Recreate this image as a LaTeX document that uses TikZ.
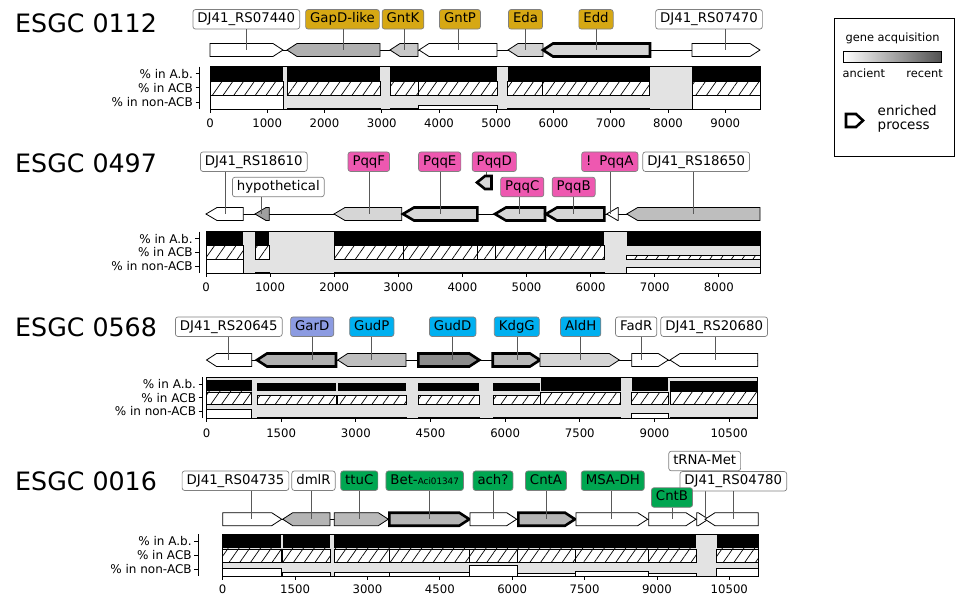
\documentclass[tikz,border=0pt]{standalone}
\usepackage{fontspec}
\setmainfont{DejaVu Sans}
\usetikzlibrary{patterns.meta}
\definecolor{gold}{RGB}{214,168,20}
\definecolor{pink}{RGB}{238,88,176}
\definecolor{cyanl}{RGB}{0,176,240}
\definecolor{lav}{RGB}{140,155,225}
\definecolor{grn}{RGB}{0,166,81}
\definecolor{bgg}{RGB}{227,227,227}
\definecolor{c140}{RGB}{140,140,140}
\definecolor{c160}{RGB}{160,160,160}
\definecolor{c176}{RGB}{176,176,176}
\definecolor{c180}{RGB}{180,180,180}
\definecolor{c185}{RGB}{185,185,185}
\definecolor{c190}{RGB}{190,190,190}
\definecolor{c200}{RGB}{200,200,200}
\definecolor{c210}{RGB}{210,210,210}
\definecolor{c214}{RGB}{214,214,214}
\tikzset{
 genebox/.style={draw=black,line width=0.8pt,line join=miter},
 thick3/.style={line width=2.6pt},
 backbone/.style={draw=black,line width=0.9pt},
 lab/.style={draw=black!50,line width=0.7pt,rounded corners=2.5pt,inner xsep=4.5pt,inner ysep=0pt,minimum height=19.5pt,text height=9.6pt,text depth=2.8pt,font=\fontsize{13.3}{15}\selectfont},
 pinline/.style={draw=black!65,line width=0.7pt},
 hatchbar/.style={draw=black,line width=0.6pt,fill=white,postaction={pattern={Lines[angle=55,distance=8.8pt,line width=0.7pt]}}},
 nonbar/.style={draw=black,line width=0.6pt,fill=white},
 frameline/.style={draw=black,line width=0.8pt},
 axisline/.style={draw=black,line width=0.8pt},
 rowlab/.style={anchor=east,inner sep=0pt,font=\fontsize{12}{14}\selectfont},
 ticklab/.style={inner sep=0pt,font=\fontsize{11.7}{13}\selectfont},
 ttl/.style={anchor=west,inner sep=0pt,font=\fontsize{25.3}{29}\selectfont},
 legtxt/.style={inner sep=0pt,font=\fontsize{11.4}{13}\selectfont},
 legbig/.style={inner sep=0pt,anchor=west,font=\fontsize{13.5}{15}\selectfont},
}
\def\tipl{10}
% right-pointing gene
\newcommand\gR[5]{%
  \pgfmathsetmacro\gtip{min(\tipl,#2-#1)}%
  \pgfmathsetmacro\gxb{#2-\gtip}%
  \draw[genebox,fill=#4,#5] (#1,#3-6.5) -- (\gxb,#3-6.5) -- (#2,#3) -- (\gxb,#3+6.5) -- (#1,#3+6.5) -- cycle;}
% left-pointing gene
\newcommand\gL[5]{%
  \pgfmathsetmacro\gtip{min(\tipl,#2-#1)}%
  \pgfmathsetmacro\gxa{#1+\gtip}%
  \draw[genebox,fill=#4,#5] (#1,#3) -- (\gxa,#3-6.5) -- (#2,#3-6.5) -- (#2,#3+6.5) -- (\gxa,#3+6.5) -- cycle;}
% label with pin
\newcommand\lab[7]{%
  \coordinate (#1p) at (#6,#7);
  \node[lab,fill=#4] (#1) at (#2,#3) {#5};
  \draw[pinline] (#1p |- #1.south) -- (#1p);}
% bar segment: x1 x2 top rh ab acb non
\newcommand\seg[7]{%
  \pgfmathsetmacro\sgA{#3+#4}%
  \pgfmathsetmacro\sgB{#3+2*#4}%
  \pgfmathsetmacro\sgC{#3+3*#4}%
  \fill[black] (#1,\sgA) rectangle (#2,\sgA-#5*#4);
  \draw[hatchbar] (#1,\sgB) rectangle (#2,\sgB-#6*#4);
  \draw[nonbar] (#1,\sgC) rectangle (#2,\sgC-#7*#4);}
\newcommand\plotbg[4]{\fill[bgg] (#1,#3) rectangle (#2,#3+3*#4);}
% id x0 xend top rh spinex scale ticks labely
\newcommand\plotfg[9]{%
  \draw[frameline] (#2,#4) rectangle (#3,#4+3*#5);
  \draw[axisline] (#6,#4) -- (#6,#4+3*#5);
  \foreach \k/\t in {1/\% in A.b.,2/\% in ACB,3/\% in non-ACB}{
    \draw[axisline] (#6-4,#4+\k*#5-0.5*#5) -- (#6,#4+\k*#5-0.5*#5);
    \node[rowlab] (#1r\k) at (#6-6.5,#4+\k*#5-0.5*#5) {\t};}
  \foreach \v in {#8}{
    \draw[axisline] (#2+\v*#7,#4+3*#5) -- (#2+\v*#7,#4+3*#5+4);
    \node[ticklab] (#1t\v) at (#2+\v*#7,#9) {\v};}}
\begin{document}
\begin{tikzpicture}[x=1pt,y=-1pt]
\useasboundingbox (0,0) rectangle (956,598);
\fill[white] (0,0) rectangle (956,598);

% ---------------- titles
\node[ttl] (T1) at (15,23.3) {ESGC 0112};
\node[ttl] (T2) at (15,163.3) {ESGC 0497};
\node[ttl] (T3) at (15,327.3) {ESGC 0568};
\node[ttl] (T4) at (15,481.7) {ESGC 0016};

% ================= Panel 1
\draw[backbone] (210,50) -- (760,50);
\gR{210}{283}{50}{white}{}
\gL{287}{380}{50}{c176}{}
\gL{390}{418}{50}{c200}{}
\gL{419}{497}{50}{white}{}
\gL{508}{543}{50}{c210}{}
\gL{543}{650}{50}{c214}{thick3}
\gR{692}{760}{50}{white}{}
\lab{a1}{246.3}{19.3}{white}{DJ41\_RS07440}{246.7}{50}
\lab{a2}{342.5}{19.3}{gold}{GapD-like}{343}{50}
\lab{a3}{403}{19.3}{gold}{GntK}{404}{50}
\lab{a4}{460}{19.3}{gold}{GntP}{458}{50}
\lab{a5}{525.5}{19.3}{gold}{Eda}{525.7}{50}
\lab{a6}{596}{19.3}{gold}{Edd}{596.7}{50}
\lab{a7}{709}{19.3}{white}{DJ41\_RS07470}{725.7}{50}
\plotbg{210}{760}{66.7}{14.1}
\seg{210}{283}{66.7}{14.1}{1}{1}{1}
\seg{287.3}{380}{66.7}{14.1}{1}{1}{0.06}
\seg{390}{418.5}{66.7}{14.1}{1}{1}{0.06}
\seg{418.5}{497}{66.7}{14.1}{1}{1}{0.28}
\seg{507.7}{542.7}{66.7}{14.1}{1}{1}{0.06}
\seg{542.7}{649.5}{66.7}{14.1}{1}{1}{0.06}
\seg{692}{760}{66.7}{14.1}{1}{1}{1}
\plotfg{p1}{210}{760}{66.7}{14.1}{199.5}{0.05725}{0,1000,...,9000}{123}

% ================= Panel 2
\def\tipl{11}
\draw[backbone] (206,214) -- (760,214);
\gL{206}{243.3}{214}{white}{}
\gL{255}{269.3}{214}{c160}{}
\gL{334}{401.7}{214}{c214}{}
\gL{403}{477.3}{214}{c214}{thick3}
\gL{495}{545}{214}{c214}{thick3}
\gL{546}{604.3}{214}{c214}{thick3}
\gL{606.7}{618.3}{214}{white}{}
\gL{626.7}{760}{214}{c190}{}
\lab{b1}{253.8}{161.7}{white}{DJ41\_RS18610}{225}{214}
\lab{b2}{278.3}{187}{white}{hypothetical}{261.7}{214}
\lab{b3}{368.8}{161.7}{pink}{PqqF}{369}{214}
\lab{b4}{439.7}{161.7}{pink}{PqqE}{440}{214}
\lab{b5}{494.3}{161.7}{pink}{PqqD}{486.7}{182.5}
\lab{b6}{522.2}{187}{pink}{PqqC}{519.3}{214}
\lab{b7}{573.7}{187}{pink}{PqqB}{573.3}{214}
\lab{b8}{609.8}{161.7}{pink}{!\hspace{8pt}PqqA}{610}{214}
\lab{b9}{696.2}{161.7}{white}{DJ41\_RS18650}{693.3}{214}
\def\tipl{8}
\gL{477}{491.5}{182.5}{c214}{thick3}
\plotbg{206}{760}{231.7}{13.87}
\seg{206}{243.3}{231.7}{13.87}{1}{1}{1}
\seg{255}{269.3}{231.7}{13.87}{1}{1}{0.08}
\seg{334}{403}{231.7}{13.87}{1}{1}{0.06}
\seg{403}{477.3}{231.7}{13.87}{1}{1}{0.06}
\seg{477.3}{495}{231.7}{13.87}{1}{1}{0.06}
\seg{495}{545}{231.7}{13.87}{1}{1}{0.06}
\seg{545}{604.3}{231.7}{13.87}{1}{1}{0.06}
\seg{626.7}{760}{231.7}{13.87}{1}{0.3}{0.45}
\plotfg{p2}{206}{760}{231.7}{13.87}{199.3}{0.0641}{0,1000,...,8000}{287.5}

% ================= Panel 3
\def\tipl{10}
\draw[backbone] (206.5,360) -- (757.7,360);
\gL{206.5}{251.7}{360}{white}{}
\gL{257}{336}{360}{c176}{thick3}
\gL{337.7}{406}{360}{c190}{}
\gR{418.3}{479.3}{360}{c140}{thick3}
\gR{492.7}{540}{360}{c185}{thick3}
\gR{540}{619.3}{360}{c214}{}
\gR{631.7}{668.3}{360}{white}{}
\gL{670}{757.7}{360}{white}{}
\lab{c1}{228.8}{326.7}{white}{DJ41\_RS20645}{228.7}{360}
\lab{c2}{312.2}{326.7}{lav}{GarD}{312.3}{360}
\lab{c3}{371.8}{326.7}{cyanl}{GudP}{371.7}{360}
\lab{c4}{452.7}{326.7}{cyanl}{GudD}{452.3}{360}
\lab{c5}{516.8}{326.7}{cyanl}{KdgG}{517.3}{360}
\lab{c6}{580.7}{326.7}{cyanl}{AldH}{580.7}{360}
\lab{c7}{636.2}{326.7}{white}{FadR}{641.7}{360}
\lab{c8}{714.2}{326.7}{white}{DJ41\_RS20680}{715}{360}
\plotbg{206.5}{757.7}{377.3}{13.67}
\seg{206.5}{251.7}{377.3}{13.67}{0.78}{0.93}{0.66}
\seg{257}{336}{377.3}{13.67}{0.6}{0.66}{0.06}
\seg{337.7}{406}{377.3}{13.67}{0.6}{0.66}{0.06}
\seg{418.3}{479.3}{377.3}{13.67}{0.6}{0.66}{0.06}
\seg{493.3}{540}{377.3}{13.67}{0.6}{0.66}{0.06}
\seg{540.5}{620.5}{377.3}{13.67}{1}{0.88}{0.06}
\seg{631.7}{668}{377.3}{13.67}{1}{0.88}{0.38}
\seg{670}{757.7}{377.3}{13.67}{0.7}{0.95}{0.06}
\plotfg{p3}{206.5}{757.7}{377.3}{13.67}{202.7}{0.04977}{0,1500,...,10500}{433}

% ================= Panel 4
\draw[backbone] (222.7,519.2) -- (758.3,519.2);
\gR{222.7}{281.7}{519.2}{white}{}
\gL{282.7}{330}{519.2}{c180}{}
\gR{334.3}{388.3}{519.2}{c185}{}
\gR{389.3}{469.3}{519.2}{c180}{thick3}
\gR{470}{516.7}{519.2}{white}{}
\gR{518.3}{575}{519.2}{c180}{thick3}
\gR{576}{647.7}{519.2}{white}{}
\gR{648.7}{696}{519.2}{white}{}
\gR{696.7}{708.3}{519.2}{white}{}
\gL{705}{758.3}{519.2}{white}{}
\lab{d1}{235.5}{480.7}{white}{DJ41\_RS04735}{251}{519.2}
\lab{d2}{313.5}{480.7}{white}{dmlR}{311}{519.2}
\lab{d3}{359.3}{480.7}{grn}{ttuC}{359.3}{519.2}
\lab{d4}{424.7}{480.7}{grn}{Bet-{\fontsize{8.8}{10}\selectfont Aci01347}}{429.3}{519.2}
\lab{d5}{493}{480.7}{grn}{ach?}{493.3}{519.2}
\lab{d6}{546}{480.7}{grn}{CntA}{546}{519.2}
\lab{d7}{612.8}{480.7}{grn}{MSA-DH}{611.7}{519.2}
\lab{d8}{704.7}{461}{white}{tRNA-Met}{705}{519.2}
\lab{d9}{733.3}{481.3}{white}{DJ41\_RS04780}{733.3}{519.2}
\lab{d10}{672}{497.5}{grn}{CntB}{672}{519.2}
\plotbg{222.7}{758.3}{534.3}{13.9}
\seg{222.7}{281.2}{534.3}{13.9}{1}{0.95}{0.55}
\seg{282.7}{330}{534.3}{13.9}{1}{0.95}{0.25}
\seg{334.3}{388.8}{534.3}{13.9}{1}{0.95}{0.25}
\seg{388.8}{469.7}{534.3}{13.9}{1}{0.95}{0.25}
\seg{469.7}{517.5}{534.3}{13.9}{1}{0.95}{0.75}
\seg{517.5}{575.5}{534.3}{13.9}{1}{0.95}{0.22}
\seg{575.5}{648.2}{534.3}{13.9}{1}{0.95}{0.36}
\seg{648.2}{696}{534.3}{13.9}{1}{0.95}{0.2}
\seg{716.7}{758.3}{534.3}{13.9}{1}{0.95}{0.53}
\plotfg{p4}{222.7}{758.3}{534.3}{13.9}{198.3}{0.04825}{0,1500,...,10500}{588.8}

% ================= Legend
\draw[frameline] (834,18.3) rectangle (954,156.7);
\node[legtxt] (lg1) at (892.5,38.3) {gene acquisition};
\draw[left color=white,right color=black!68,draw=black,line width=0.7pt] (843.3,51) rectangle (941,62.7);
\node[legtxt,anchor=west] (lg2) at (842.5,73.3) {ancient};
\node[legtxt,anchor=east] (lg3) at (943,73.3) {recent};
\def\tipl{7}
\gR{846}{863}{120.5}{white}{thick3}
\node[legbig] (lg4) at (877.5,110) {enriched};
\node[legbig] (lg5) at (877.5,127) {process};
\end{tikzpicture}
\end{document}
